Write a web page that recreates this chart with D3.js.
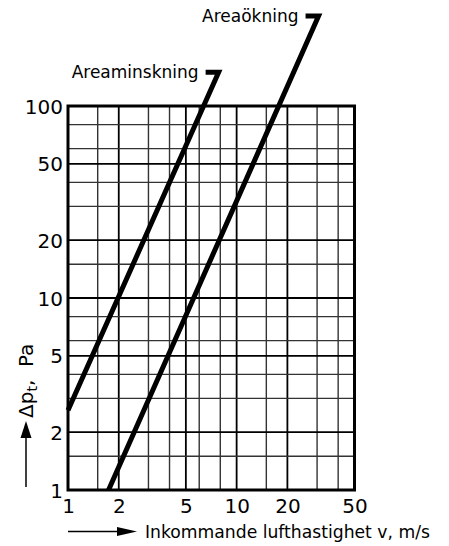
<!DOCTYPE html>
<html>
<head>
<meta charset="utf-8">
<script src="https://cdn.jsdelivr.net/npm/d3@7"></script>
<style>
  html, body { margin: 0; padding: 0; background: #fff; }
  svg { display: block; }
  text { font-family: "DejaVu Sans", sans-serif; fill: #000; }
</style>
</head>
<body>
<svg id="chart" width="449" height="546"></svg>
<script>
// ---- data ----
const xDomain = [1, 50];
const yDomain = [1, 100];
const xTicks = [1, 2, 5, 10, 20, 50];
const yTicks = [1, 2, 5, 10, 20, 50, 100];
const xGridMajor = [2, 5, 10, 20];
const xGridMinor = [1.5, 3, 4, 6, 8, 15, 30, 40];
const yGridMajor = [2, 5, 10, 20, 50];
const yGridMinor = [1.5, 3, 4, 6, 8, 15, 30, 40, 60, 80];
const seriesNames = ["Areaminskning", "Areaökning"];
const seriesV = [[1, 7.82], [1.74, 30.6]];
const seriesP = [[2.6, 150], [1, 294]];
const xTitle = "Inkommande lufthastighet v, m/s";

// ---- layout ----
const svg = d3.select("#chart");
const x = d3.scaleLog().domain(xDomain).range([68, 354.5]);
const y = d3.scaleLog().domain(yDomain).range([490, 106]);

const g = svg.append("g");

// grid
g.selectAll(".vmin").data(xGridMinor).join("line")
  .attr("x1", d => x(d)).attr("x2", d => x(d))
  .attr("y1", y(yDomain[0])).attr("y2", y(yDomain[1]))
  .attr("stroke", "#333").attr("stroke-width", 1.4);
g.selectAll(".vmaj").data(xGridMajor).join("line")
  .attr("x1", d => x(d)).attr("x2", d => x(d))
  .attr("y1", y(yDomain[0])).attr("y2", y(yDomain[1]))
  .attr("stroke", "#000").attr("stroke-width", 1.8);
g.selectAll(".hmin").data(yGridMinor).join("line")
  .attr("y1", d => y(d)).attr("y2", d => y(d))
  .attr("x1", x(xDomain[0])).attr("x2", x(xDomain[1]))
  .attr("stroke", "#333").attr("stroke-width", 1.4);
g.selectAll(".hmaj").data(yGridMajor).join("line")
  .attr("y1", d => y(d)).attr("y2", d => y(d))
  .attr("x1", x(xDomain[0])).attr("x2", x(xDomain[1]))
  .attr("stroke", "#000").attr("stroke-width", 1.8);

// frame
g.append("rect")
  .attr("x", x(xDomain[0])).attr("y", y(yDomain[1]))
  .attr("width", x(xDomain[1]) - x(xDomain[0]))
  .attr("height", y(yDomain[0]) - y(yDomain[1]))
  .attr("fill", "none").attr("stroke", "#000").attr("stroke-width", 3);

// axes tick labels
const xAxis = d3.axisBottom(x).tickValues(xTicks).tickFormat(d3.format("d")).tickSize(0).tickPadding(0);
const xa = svg.append("g").attr("transform", `translate(0,${y(yDomain[0])})`).call(xAxis);
xa.select(".domain").remove();
xa.selectAll("text").attr("font-size", 20).attr("font-family", "DejaVu Sans")
  .attr("y", 23).attr("dy", 0).attr("fill", "#000");

const yAxis = d3.axisLeft(y).tickValues(yTicks).tickFormat(d3.format("d")).tickSize(0).tickPadding(0);
const ya = svg.append("g").attr("transform", `translate(${x(xDomain[0])},0)`).call(yAxis);
ya.select(".domain").remove();
ya.selectAll("text").attr("font-size", 20).attr("font-family", "DejaVu Sans")
  .attr("x", -5).attr("dy", "0.35em").attr("fill", "#000");

// series lines with hooks
const hookLen = 13;
seriesNames.forEach((name, i) => {
  const pts = seriesV[i].map((v, j) => [x(v), y(seriesP[i][j])]);
  const top = pts[pts.length - 1];
  const path = [[top[0] - hookLen, top[1]], top, ...pts.slice(0, -1).reverse()];
  svg.append("path")
    .attr("d", d3.line()(path))
    .attr("fill", "none").attr("stroke", "#000")
    .attr("stroke-width", 5).attr("stroke-linejoin", "miter").attr("stroke-miterlimit", 10);
  svg.append("text")
    .attr("x", top[0] - hookLen - 7).attr("y", top[1] + 6)
    .attr("text-anchor", "end").attr("font-size", 17)
    .text(name);
});

// x axis title with arrow
svg.append("line").attr("x1", 68).attr("x2", 120).attr("y1", 531.5).attr("y2", 531.5)
  .attr("stroke", "#000").attr("stroke-width", 1.5);
svg.append("path").attr("d", "M117,527 L137,531.5 L117,536 Z").attr("fill", "#000");
svg.append("text").attr("x", 145).attr("y", 538).attr("font-size", 17.2).text(xTitle);

// y axis title with arrow
svg.append("line").attr("x1", 26).attr("x2", 26).attr("y1", 487).attr("y2", 435)
  .attr("stroke", "#000").attr("stroke-width", 1.5);
svg.append("path").attr("d", "M20.5,438 L26,421 L31.5,438 Z").attr("fill", "#000");
const yt = svg.append("text")
  .attr("transform", "translate(33,418) rotate(-90)")
  .attr("font-size", 20);
yt.append("tspan").text("Δp");
yt.append("tspan").attr("font-size", 14).attr("dy", 4).text("t");
yt.append("tspan").attr("dy", -4).text(",\u00a0 Pa");
</script>
</body>
</html>
